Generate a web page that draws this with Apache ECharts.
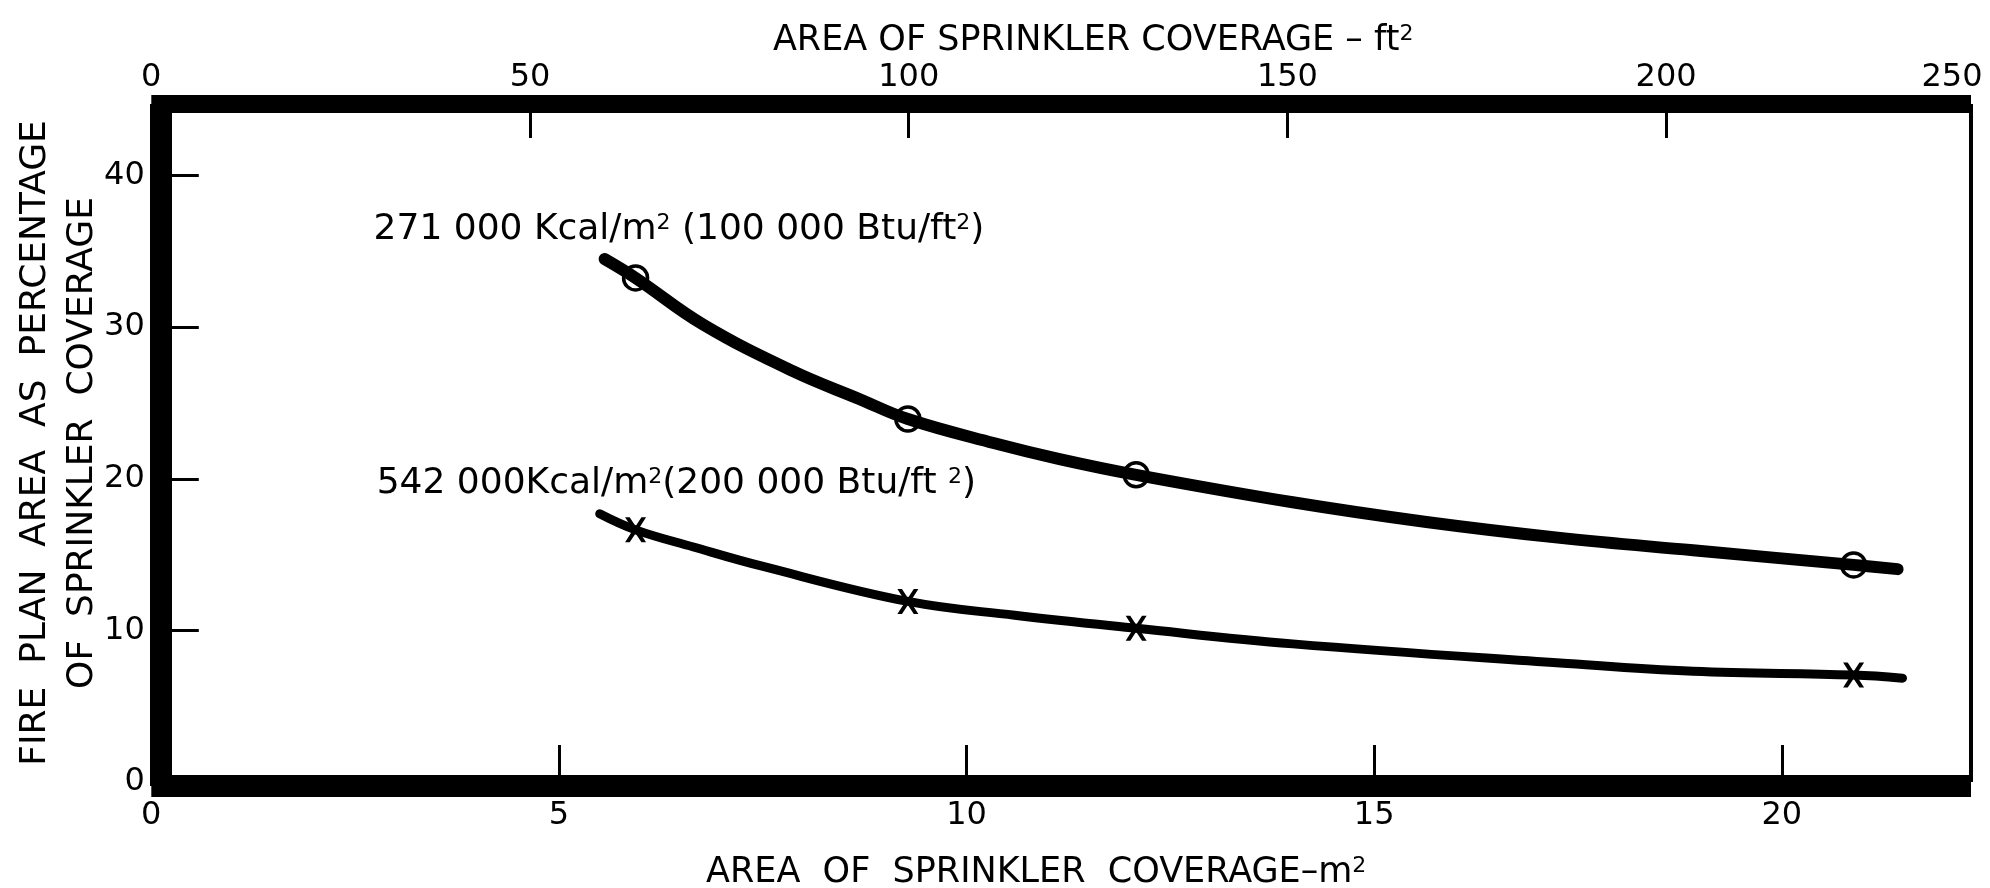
<!DOCTYPE html>
<html>
<head>
<meta charset="utf-8">
<script src="https://cdn.jsdelivr.net/npm/echarts@6/dist/echarts.min.js"></script>
<style>
html,body{margin:0;padding:0;background:#fff;}
#chart{width:1990px;height:888px;}
</style>
</head>
<body>
<div id="chart"></div>
<script>
// ---- data ----
// x: area of sprinkler coverage, m² ; y: fire plan area as % of sprinkler coverage
const upperCurveX = [5.56, 5.94, 6.77, 7.87, 8.69, 9.28, 10.33, 11.14, 12.08, 14.0, 15.64, 17.28, 18.91, 20.88, 21.42];
const upperCurveY = [34.5, 33.25, 30.17, 27.1, 25.25, 23.94, 22.36, 21.3, 20.26, 18.45, 17.15, 16.1, 15.28, 14.32, 14.04];
const lowerCurveX = [5.50, 5.94, 6.65, 7.48, 9.28, 10.59, 12.08, 14.0, 17.28, 18.91, 20.88, 21.48];
const lowerCurveY = [17.69, 16.63, 15.5, 14.25, 11.91, 11.0, 10.14, 9.11, 7.85, 7.3, 7.05, 6.85];
const markX = [5.94, 9.28, 12.08, 20.88];
const upperMarkY = [33.25, 23.94, 20.26, 14.32];
const lowerMarkY = [16.63, 11.91, 10.14, 7.05];

const upperLabel = '271 000 Kcal/m{s|2} (100 000 Btu/ft{s|2})';
const lowerLabel = '542 000Kcal/m{s|2}(200 000 Btu/ft {s|2})';

const xTickLabelsM2 = ['0', '5', '10', '15', '20'];
const xTickLabelsFt2 = ['0', '50', '100', '150', '200', '250'];
const yTickLabels = ['0', '10', '20', '30', '40'];

const M2_TO_FT2 = 10.7639;
const X_MIN = 0, X_MAX = 22.32;
const Y_MIN = 0, Y_MAX = 44.72;

const FONT = 'DejaVu Sans';
const W = 'normal';
const zip = (a, b) => a.map((v, i) => [v, b[i]]);
const supRich = { s: { fontSize: 22, fontFamily: FONT, fontWeight: W, color: '#000', verticalAlign: 'top', padding: [0, 0, 14, 0] } };

const chart = echarts.init(document.getElementById('chart'), null, { renderer: 'canvas' });

const option = {
  animation: false,
  backgroundColor: '#fff',
  textStyle: { fontFamily: FONT, color: '#000', fontWeight: W },
  grid: { left: 151.3, right: 19, top: 104, bottom: 106, containLabel: false, outerBoundsMode: 'none' },
  xAxis: [
    {
      type: 'value', position: 'bottom', min: X_MIN, max: X_MAX, interval: 5, offset: 4,
      axisLine: { onZero: false, lineStyle: { color: '#000', width: 22, cap: 'butt' } },
      axisTick: { inside: true, length: 41, lineStyle: { color: '#000', width: 3, cap: 'butt' } },
      axisLabel: { margin: 14, fontSize: 32, fontFamily: FONT, fontWeight: W, color: '#000', showMaxLabel: false,
        formatter: (v, i) => xTickLabelsM2[i] !== undefined ? xTickLabelsM2[i] : '' },
      splitLine: { show: false },
      name: 'AREA  OF  SPRINKLER  COVERAGE–m{s|2}', nameLocation: 'middle', nameGap: 69, nameMoveOverlap: false,
      nameTextStyle: { fontSize: 35, fontFamily: FONT, fontWeight: W, color: '#000', padding: [0, 50, 0, 0], rich: supRich }
    },
    {
      type: 'value', position: 'top', min: X_MIN * M2_TO_FT2, max: X_MAX * M2_TO_FT2, interval: 50,
      axisLine: { onZero: false, lineStyle: { color: '#000', width: 18, cap: 'butt' } },
      axisTick: { inside: true, length: 34, lineStyle: { color: '#000', width: 3, cap: 'butt' } },
      axisLabel: { margin: 10, fontSize: 32, fontFamily: FONT, fontWeight: W, color: '#000',
        formatter: (v, i) => {
          const t = xTickLabelsFt2[i] !== undefined ? xTickLabelsFt2[i] : '';
          return i === xTickLabelsFt2.length - 1 ? '{e|' + t + '}' : t;
        },
        rich: { e: { fontSize: 32, fontFamily: FONT, fontWeight: W, color: '#000', padding: [0, 38, 0, 0] } } },
      splitLine: { show: false },
      name: 'AREA OF SPRINKLER COVERAGE – ft{s|2}', nameLocation: 'middle', nameGap: 45, nameMoveOverlap: false,
      nameTextStyle: { fontSize: 35, fontFamily: FONT, fontWeight: W, color: '#000', padding: [0, 0, 0, 64], rich: supRich }
    }
  ],
  yAxis: [
    {
      type: 'value', position: 'left', min: Y_MIN, max: Y_MAX, interval: 10, offset: -9.5,
      axisLine: { onZero: false, lineStyle: { color: '#000', width: 22, cap: 'butt' } },
      axisTick: { inside: true, length: 38, lineStyle: { color: '#000', width: 3, cap: 'butt' } },
      axisLabel: { margin: 16, fontSize: 32, fontFamily: FONT, fontWeight: W, color: '#000', showMaxLabel: false,
        formatter: (v, i) => yTickLabels[i] !== undefined ? yTickLabels[i] : '' },
      splitLine: { show: false },
      name: 'FIRE  PLAN  AREA  AS  PERCENTAGE\nOF  SPRINKLER  COVERAGE',
      nameLocation: 'middle', nameRotate: 90, nameGap: 55, nameMoveOverlap: false,
      nameTextStyle: { fontSize: 36, fontFamily: FONT, fontWeight: W, color: '#000', lineHeight: 47, align: 'center' }
    },
    {
      type: 'value', position: 'right', min: Y_MIN, max: Y_MAX,
      axisLine: { onZero: false, lineStyle: { color: '#000', width: 4, cap: 'butt' } },
      axisTick: { show: false }, axisLabel: { show: false }, splitLine: { show: false }
    }
  ],
  series: [
    {
      name: 'upper', type: 'line', xAxisIndex: 0, yAxisIndex: 0,
      data: zip(upperCurveX, upperCurveY), symbol: 'none', smooth: 0.4,
      lineStyle: { color: '#000', width: 12, cap: 'round', join: 'round' },
      markPoint: {
        silent: true, symbol: 'circle', symbolSize: 1, itemStyle: { color: 'rgba(0,0,0,0)' },
        label: { show: true, position: 'inside', align: 'left', verticalAlign: 'middle', offset: [-231, -29],
          fontSize: 36, fontFamily: FONT, fontWeight: W, color: '#000', formatter: upperLabel, rich: supRich },
        data: [{ coord: [upperCurveX[0], upperCurveY[0]] }]
      }
    },
    {
      name: 'upperMarks', type: 'scatter', xAxisIndex: 0, yAxisIndex: 0,
      data: zip(markX, upperMarkY), symbol: 'circle', symbolSize: 24,
      itemStyle: { color: '#fff', borderColor: '#000', borderWidth: 3.5, opacity: 1 }
    },
    {
      name: 'lower', type: 'line', xAxisIndex: 0, yAxisIndex: 0,
      data: zip(lowerCurveX, lowerCurveY), symbol: 'none', smooth: 0.4,
      lineStyle: { color: '#000', width: 9, cap: 'round', join: 'round' },
      markPoint: {
        silent: true, symbol: 'circle', symbolSize: 1, itemStyle: { color: 'rgba(0,0,0,0)' },
        label: { show: true, position: 'inside', align: 'left', verticalAlign: 'middle', offset: [-223, -30],
          fontSize: 36, fontFamily: FONT, fontWeight: W, color: '#000', formatter: lowerLabel, rich: supRich },
        data: [{ coord: [lowerCurveX[0], lowerCurveY[0]] }]
      }
    },
    {
      name: 'lowerMarkGap', type: 'scatter', xAxisIndex: 0, yAxisIndex: 0,
      data: zip(markX, lowerMarkY), symbol: 'rect', symbolSize: [20, 13],
      itemStyle: { color: '#fff', opacity: 1 }
    },
    {
      name: 'lowerMarks', type: 'scatter', xAxisIndex: 0, yAxisIndex: 0,
      data: zip(markX, lowerMarkY),
      symbol: 'path://M0,0 L4.4,0 L10,8.6 L15.6,0 L20,0 L12.4,12 L20,24 L15.6,24 L10,15.4 L4.4,24 L0,24 L7.6,12 Z',
      symbolSize: [21, 25], itemStyle: { color: '#000', opacity: 1 }
    }
  ]
};
chart.setOption(option);
</script>
</body>
</html>
